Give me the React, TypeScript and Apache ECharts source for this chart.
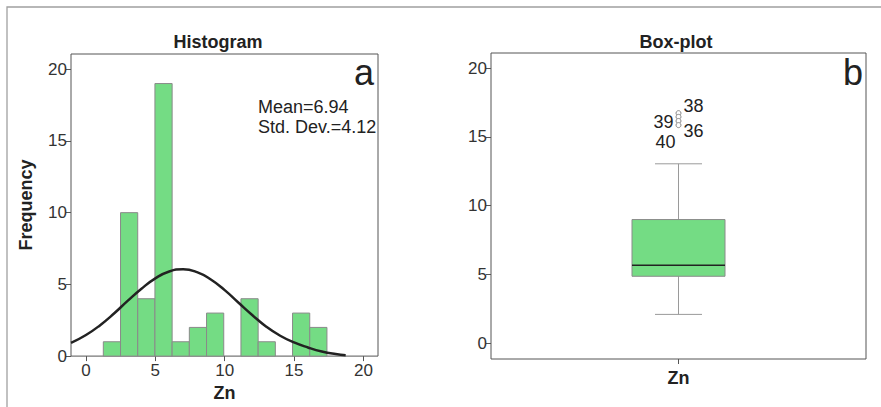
import React, { useEffect, useRef } from "react";
import * as echarts from "echarts";

// Histogram (Zn)
const binLower = [1.25, 2.49, 3.73, 4.97, 6.21, 7.45, 8.69, 9.93, 11.17, 12.41, 13.65, 14.89, 16.13];
const binWidth = 1.24;
const binCounts = [1, 10, 4, 19, 1, 2, 3, 0, 4, 1, 0, 3, 2];
const curveX = [-1.08, 0, 1, 2, 3, 4, 5, 6, 7, 8, 9, 10, 11, 12, 13, 14, 15, 16, 17, 18, 18.72];
const curveY = [0.92, 1.47, 2.14, 2.95, 3.85, 4.7, 5.42, 5.9, 6.05, 5.85, 5.34, 4.6, 3.72, 2.85, 2.05, 1.42, 0.95, 0.6, 0.32, 0.14, 0.06];
const histTicks = [0, 5, 10, 15, 20];
const meanText = "Mean=6.94";
const sdText = "Std. Dev.=4.12";

// Box-plot (Zn)
const boxCategories = ["Zn"];
const boxStats = [2.1, 4.87, 5.67, 8.99, 13.04]; // min, Q1, median, Q3, max
const outlierValues = [16.72, 16.45, 16.15, 15.85];
const outlierIds = ["38", "39", "36", "40"];
const boxTicks = [0, 5, 10, 15, 20];

const FONT = "'Liberation Sans', Arial, sans-serif";
const GREEN = "#74dc84";
const TXT = "#222";

export default function App() {
  const ref = useRef<HTMLDivElement>(null);
  useEffect(() => {
    if (!ref.current) return;
    const chart = echarts.init(ref.current, null, { renderer: "svg" });
    const labelPos: any[] = [
      { position: "right", offset: [-3, -7] },
      { position: "left", offset: [3, 5] },
      { position: "right", offset: [-3, 10] },
      { position: "left", offset: [5, 17] },
    ];
    const axisLbl = (vals: number[], margin: number) => ({
      customValues: vals,
      fontSize: 17,
      color: "#333",
      fontFamily: FONT,
      margin,
    });
    const tick = (vals?: number[]) => ({
      show: true,
      ...(vals ? { customValues: vals } : { alignWithLabel: true }),
      length: 5,
      lineStyle: { color: "#555" },
    });
    const nameStyle = { fontSize: 18, fontWeight: "bold", color: TXT, fontFamily: FONT };
    const option: any = {
      animation: false,
      textStyle: { fontFamily: FONT },
      grid: [
        { left: 71, top: 54, width: 307, height: 305, show: true, borderColor: "#555", borderWidth: 1, backgroundColor: "#fff" },
        { left: 491, top: 53, width: 375, height: 306, show: true, borderColor: "#555", borderWidth: 1, backgroundColor: "#fff" },
      ],
      xAxis: [
        {
          type: "value",
          gridIndex: 0,
          min: -1.08,
          max: 21.05,
          axisLine: { show: false, onZero: false },
          axisTick: tick(histTicks),
          axisLabel: axisLbl(histTicks, 6),
          splitLine: { show: false },
          name: "Zn",
          nameLocation: "middle",
          nameGap: 25,
          nameTextStyle: nameStyle,
        },
        {
          type: "category",
          gridIndex: 1,
          data: boxCategories,
          axisLine: { show: false, onZero: false },
          axisTick: tick(),
          axisLabel: { show: false },
          name: "Zn",
          nameLocation: "middle",
          nameGap: 10,
          nameTextStyle: nameStyle,
        },
      ],
      yAxis: [
        {
          type: "value",
          gridIndex: 0,
          min: 0,
          max: 21.06,
          axisLine: { show: false, onZero: false },
          axisTick: tick(histTicks),
          axisLabel: axisLbl(histTicks, 4),
          splitLine: { show: false },
          name: "Frequency",
          nameLocation: "middle",
          nameGap: 36,
          nameRotate: 90,
          nameTextStyle: nameStyle,
        },
        {
          type: "value",
          gridIndex: 1,
          min: -1.14,
          max: 21.09,
          axisLine: { show: false, onZero: false },
          axisTick: tick(boxTicks),
          axisLabel: axisLbl(boxTicks, 4),
          splitLine: { show: false },
        },
      ],
      series: [
        {
          type: "custom",
          xAxisIndex: 0,
          yAxisIndex: 0,
          encode: { x: [0, 1], y: 2 },
          data: binLower.map((l, i) => [l, l + binWidth, binCounts[i]]),
          renderItem: (params: any, api: any) => {
            const c = api.value(2);
            if (!c) return null;
            const p0 = api.coord([api.value(0), c]);
            const p1 = api.coord([api.value(1), 0]);
            return {
              type: "rect",
              shape: { x: p0[0], y: p0[1], width: p1[0] - p0[0], height: p1[1] - p0[1] },
              style: { fill: GREEN, stroke: "#8a8a8a", lineWidth: 1 },
            };
          },
        },
        {
          type: "line",
          xAxisIndex: 0,
          yAxisIndex: 0,
          data: curveX.map((x, i) => [x, curveY[i]]),
          smooth: true,
          showSymbol: false,
          lineStyle: { color: "#222", width: 2.5 },
          z: 5,
        },
        {
          type: "custom",
          xAxisIndex: 1,
          yAxisIndex: 1,
          encode: { x: 0, y: [1, 2, 3, 4, 5] },
          data: [[0, ...boxStats]],
          renderItem: (params: any, api: any) => {
            const pLow = api.coord([api.value(0), api.value(1)]);
            const pQ1 = api.coord([api.value(0), api.value(2)]);
            const pMed = api.coord([api.value(0), api.value(3)]);
            const pQ3 = api.coord([api.value(0), api.value(4)]);
            const pHigh = api.coord([api.value(0), api.value(5)]);
            const cx = pMed[0];
            const hw = 46.5;
            const cw = 23.5;
            const ws = { stroke: "#9a9a9a", lineWidth: 1 };
            return {
              type: "group",
              children: [
                { type: "line", shape: { x1: cx, y1: pQ3[1], x2: cx, y2: pHigh[1] }, style: ws },
                { type: "line", shape: { x1: cx, y1: pQ1[1], x2: cx, y2: pLow[1] }, style: ws },
                { type: "line", shape: { x1: cx - cw, y1: pHigh[1], x2: cx + cw, y2: pHigh[1] }, style: ws },
                { type: "line", shape: { x1: cx - cw, y1: pLow[1], x2: cx + cw, y2: pLow[1] }, style: ws },
                {
                  type: "rect",
                  shape: { x: cx - hw, y: pQ3[1], width: hw * 2, height: pQ1[1] - pQ3[1] },
                  style: { fill: GREEN, stroke: "#8a8a8a", lineWidth: 1 },
                },
                { type: "line", shape: { x1: cx - hw, y1: pMed[1], x2: cx + hw, y2: pMed[1] }, style: { stroke: "#222", lineWidth: 1.5 } },
              ],
            };
          },
        },
        {
          type: "scatter",
          xAxisIndex: 1,
          yAxisIndex: 1,
          symbol: "circle",
          symbolSize: 5,
          itemStyle: { color: "#fff", borderColor: "#888", borderWidth: 1, opacity: 1 },
          data: outlierValues.map((v, i) => ({
            value: [0, v],
            label: {
              show: true,
              formatter: outlierIds[i],
              fontSize: 18,
              color: TXT,
              fontFamily: FONT,
              ...labelPos[i],
            },
          })),
          z: 6,
        },
      ],
      graphic: [
        { type: "polyline", shape: { points: [[7, 407], [7, 7], [881, 7]] }, style: { stroke: "#a0a0a0", lineWidth: 1.3, fill: "none" } },
        { type: "text", x: 218, y: 42, style: { text: "Histogram", font: `bold 18px ${FONT}`, fill: TXT, textAlign: "center", textVerticalAlign: "middle" } },
        { type: "text", x: 676, y: 42, style: { text: "Box-plot", font: `bold 18px ${FONT}`, fill: TXT, textAlign: "center", textVerticalAlign: "middle" } },
        { type: "text", x: 374, y: 72, style: { text: "a", font: `36px ${FONT}`, fill: TXT, textAlign: "right", textVerticalAlign: "middle" } },
        { type: "text", x: 863, y: 72, style: { text: "b", font: `36px ${FONT}`, fill: TXT, textAlign: "right", textVerticalAlign: "middle" } },
        { type: "text", x: 258, y: 106.5, style: { text: meanText, font: `18px ${FONT}`, fill: TXT, textAlign: "left", textVerticalAlign: "middle" } },
        { type: "text", x: 258, y: 127, style: { text: sdText, font: `18px ${FONT}`, fill: TXT, textAlign: "left", textVerticalAlign: "middle" } },
      ],
    };
    chart.setOption(option);
    return () => chart.dispose();
  }, []);
  return (
    <div
      ref={ref}
      style={{ position: "absolute", left: 0, top: 0, width: 881, height: 407, background: "#fff" }}
    />
  );
}
